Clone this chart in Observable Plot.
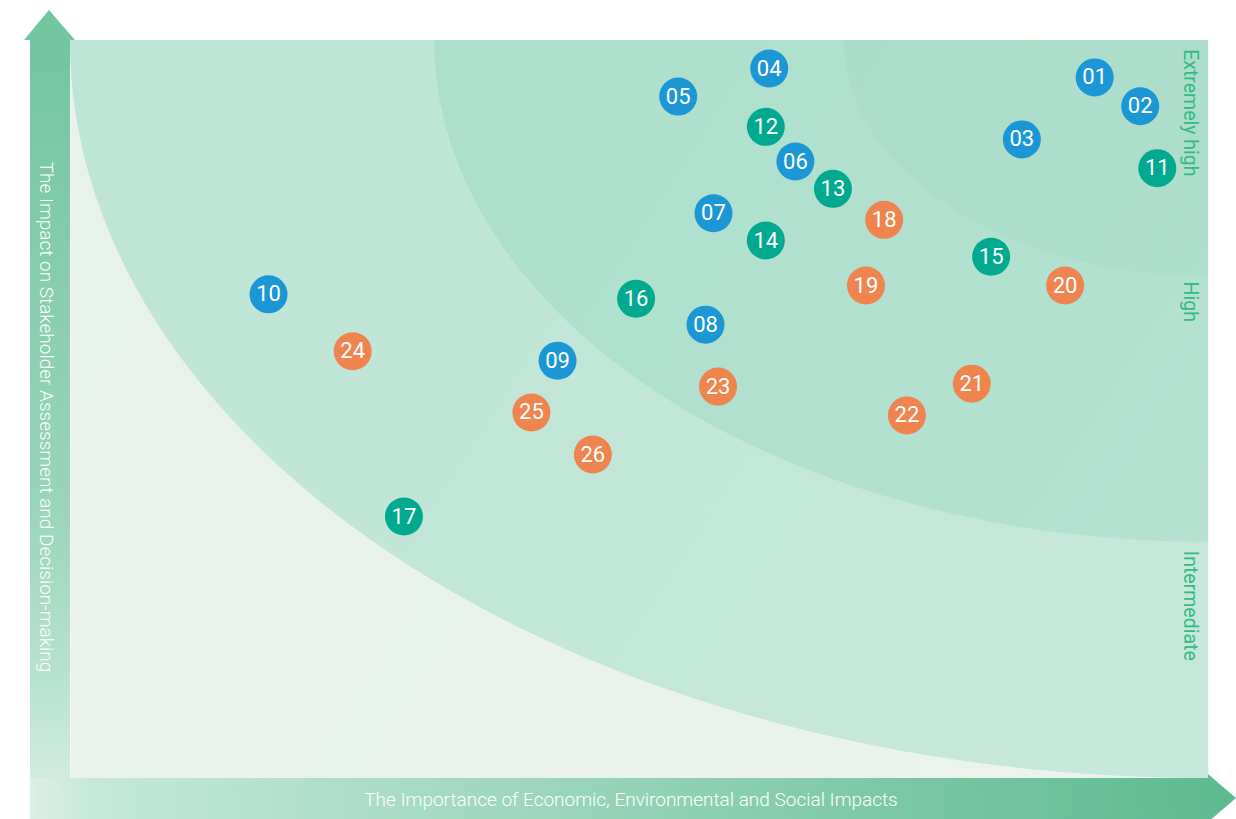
<!DOCTYPE html>
<html>
<head>
<meta charset="utf-8">
<script src="https://cdn.jsdelivr.net/npm/d3@7"></script>
<script src="https://cdn.jsdelivr.net/npm/@observablehq/plot@0.6"></script>
<style>
  html, body { margin: 0; padding: 0; background: #ffffff; }
  #chart { width: 1236px; height: 819px; overflow: hidden; }
</style>
</head>
<body>
<div id="chart"></div>
<script>
// ---- data ----
const ids = ["01","02","03","04","05","06","07","08","09","10","11","12","13","14","15","16","17","18","19","20","21","22","23","24","25","26"];
// x: importance of economic, environmental and social impacts (0-100)
const importance = [90.0, 94.0, 83.6, 61.4, 53.4, 63.7, 56.5, 55.8, 42.8, 17.4, 95.5, 61.1, 67.0, 61.1, 80.9, 49.7, 29.3, 71.5, 69.9, 87.4, 79.2, 73.5, 56.9, 24.8, 40.5, 45.9];
// y: impact on stakeholder assessment and decision-making (0-100)
const impact = [95.0, 91.1, 86.6, 96.2, 92.4, 83.6, 76.6, 61.5, 56.6, 65.6, 82.7, 88.3, 79.9, 72.9, 70.7, 65.0, 35.5, 75.7, 66.8, 66.8, 53.5, 49.2, 53.1, 57.9, 49.6, 43.9];
const groups = ["A","A","A","A","A","A","A","A","A","A","B","B","B","B","B","B","B","C","C","C","C","C","C","C","C","C"];
const groupNames = ["A","B","C"];
const groupColors = ["#1b97d6", "#00a98f", "#ef844f"];

const zoneNames = ["Intermediate", "High", "Extremely high"];
const zoneRadii = [100, 68, 32];
const zoneColors = ["#bee5d6", "#abdecb", "#a5dbc6"];
const zoneLabelY = [23.4, 64.6, 90.2];

const xTitle = "The Importance of Economic, Environmental and Social Impacts";
const yTitle = "The Impact on Stakeholder Assessment and Decision-making";

// ---- tables ----
const points = ids.map((id, i) => ({id, x: importance[i], y: impact[i], g: groups[i]}));
const angles = d3.range(0, 181).map(i => i / 2); // 0..90 degrees
const zoneRows = zoneRadii.map((r, k) => angles.map(a => {
  const t = a * Math.PI / 180;
  return {zone: zoneNames[k], x: 100 - r * Math.cos(t), y1: 100 - r * Math.sin(t)};
}));
const zoneLabels = zoneNames.map((z, k) => ({zone: z, y: zoneLabelY[k]}));

const W = 1236, H = 819;
const mL = 70, mR = 28, mT = 40, mB = 41;
const FONT = "Roboto, 'Open Sans', sans-serif";

const plot = Plot.plot({
  width: W, height: H,
  marginLeft: mL, marginRight: mR, marginTop: mT, marginBottom: mB,
  x: {domain: [0, 100], axis: null},
  y: {domain: [0, 100], axis: null},
  color: {domain: groupNames, range: groupColors},
  style: {background: "transparent", fontFamily: FONT},
  marks: [
    Plot.frame({fill: "#e7f2ea", stroke: null}),
    ...zoneRows.map((rows, k) => Plot.areaY(rows, {x: "x", y1: "y1", y2: 100, fill: zoneColors[k], curve: "linear"})),
    Plot.text(zoneLabels, {x: 98.4, y: "y", text: "zone", rotate: 90, fill: "#34ba86", fontSize: 19.5, fontWeight: 400}),
    Plot.dot(points, {x: "x", y: "y", r: 19, fill: "g", stroke: null}),
    Plot.text(points, {x: "x", y: "y", text: "id", fill: "white", fontSize: 22, fontWeight: 400})
  ]
});

const svg = d3.select(plot);
const defs = svg.append("defs");
// subtle diagonal sheen on the panel
const gs = defs.append("linearGradient").attr("id", "sheen").attr("gradientUnits", "userSpaceOnUse")
  .attr("x1", mL).attr("y1", mT).attr("x2", W - mR).attr("y2", H - mB);
gs.append("stop").attr("offset", 0).attr("stop-color", "#ffffff").attr("stop-opacity", 0);
gs.append("stop").attr("offset", 1).attr("stop-color", "#ffffff").attr("stop-opacity", 0.13);
const gv = defs.append("linearGradient").attr("id", "gv").attr("gradientUnits", "userSpaceOnUse")
  .attr("x1", 0).attr("y1", H).attr("x2", 0).attr("y2", 10);
gv.append("stop").attr("offset", 0).attr("stop-color", "#d9efe5");
gv.append("stop").attr("offset", 0.1).attr("stop-color", "#c6e8d9");
gv.append("stop").attr("offset", 0.15).attr("stop-color", "#bce4d2");
gv.append("stop").attr("offset", 0.39).attr("stop-color", "#9ad4ba");
gv.append("stop").attr("offset", 1).attr("stop-color", "#70c59f");
const gh = defs.append("linearGradient").attr("id", "gh").attr("gradientUnits", "userSpaceOnUse")
  .attr("x1", 30).attr("y1", H).attr("x2", W).attr("y2", 778);
gh.append("stop").attr("offset", 0).attr("stop-color", "#dcf0e7");
gh.append("stop").attr("offset", 0.05).attr("stop-color", "#c6e8d9");
gh.append("stop").attr("offset", 1).attr("stop-color", "#5cba90");

// insert sheen just above the zone areas (before the zone labels)
const firstText = plot.querySelector('g[aria-label="text"]');
const sheen = document.createElementNS("http://www.w3.org/2000/svg", "rect");
sheen.setAttribute("x", mL); sheen.setAttribute("y", mT);
sheen.setAttribute("width", W - mL - mR); sheen.setAttribute("height", H - mT - mB);
sheen.setAttribute("fill", "url(#sheen)");
plot.insertBefore(sheen, firstText);

const xL = mL - 40, xR = mL;               // vertical bar
const yB = H - mB;                          // top of horizontal bar
const arrows = svg.append("g");
arrows.append("path").attr("fill", "url(#gv)")
  .attr("d", `M${xL},${yB} L${xL},${mT} L${xL - 6},${mT} L${(xL + xR) / 2 - 1},${mT - 30} L${xR + 5},${mT} L${xR},${mT} L${xR},${yB} Z`);
arrows.append("path").attr("fill", "url(#gh)")
  .attr("d", `M${xL},${yB} L${W - mR},${yB} L${W - mR},${yB - 4} L${W},${yB + 20} L${W - mR},${yB + 44} L${W - mR},${H + 4} L${xL},${H + 4} Z`);

svg.append("text").text(yTitle)
  .attr("transform", `translate(${(xL + xR) / 2 - 3},${mT + 377}) rotate(90)`)
  .attr("text-anchor", "middle").attr("dy", "0.35em")
  .attr("fill", "white").attr("font-size", 19).attr("font-weight", 300)
  .attr("font-family", FONT);
svg.append("text").text(xTitle)
  .attr("x", 631).attr("y", yB + 21)
  .attr("text-anchor", "middle").attr("dy", "0.35em")
  .attr("fill", "white").attr("font-size", 19).attr("font-weight", 300)
  .attr("font-family", FONT);

document.getElementById("chart").appendChild(plot);
</script>
</body>
</html>
